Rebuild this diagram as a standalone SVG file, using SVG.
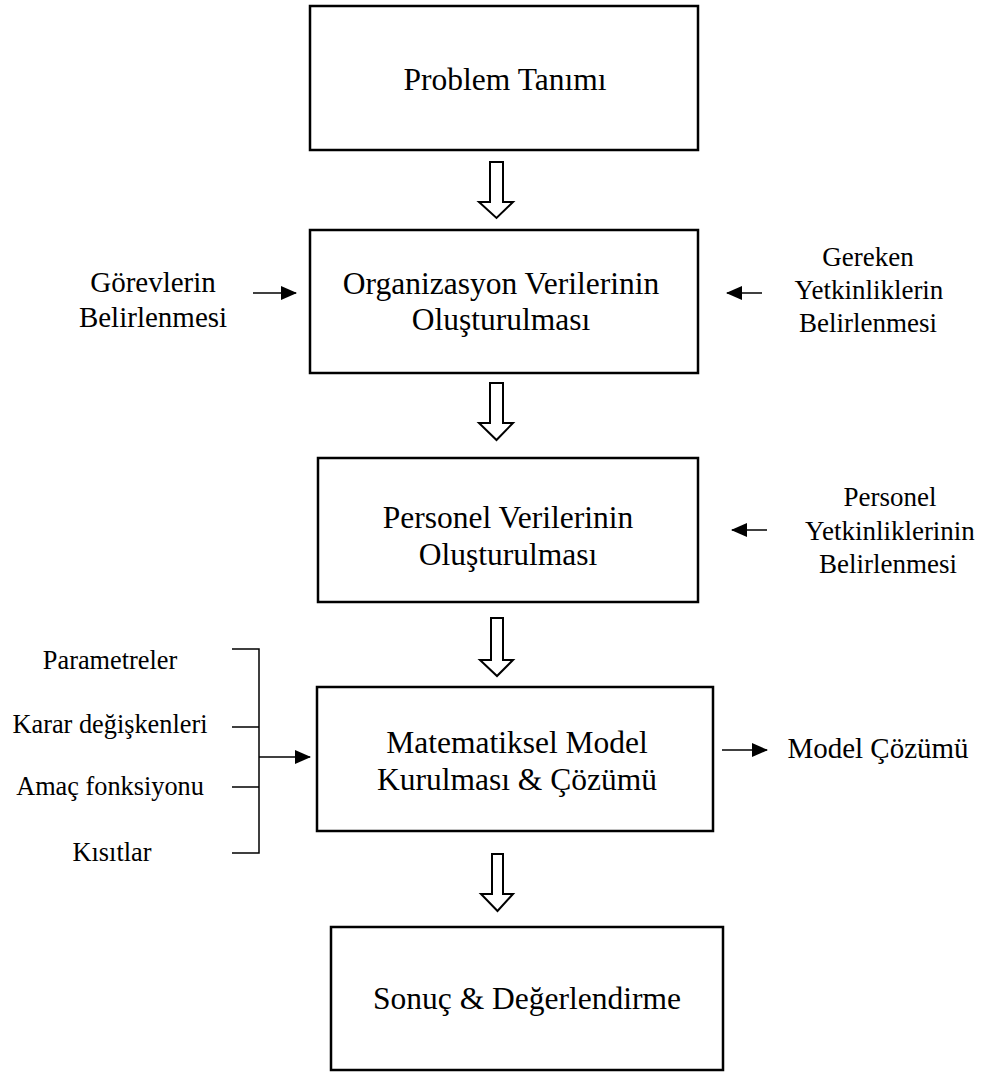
<svg xmlns="http://www.w3.org/2000/svg" width="982" height="1074" viewBox="0 0 982 1074">
<defs>
<style>
.box{fill:#fff;stroke:#000;stroke-width:2.5}
.t{font-family:"Liberation Serif","Times New Roman",serif;fill:#000;text-anchor:middle}
.big{font-size:31.5px}
.side{font-size:27px}
.sideL{font-size:29px}
.list{font-size:26.3px}
.hol{fill:#fff;stroke:#000;stroke-width:2;stroke-linejoin:miter}
.ln{fill:none;stroke:#000;stroke-width:1.5}
</style>
<marker id="ah" markerWidth="16" markerHeight="14" refX="15" refY="7" orient="auto" markerUnits="userSpaceOnUse">
<path d="M0,0 L16,7 L0,14 Z" fill="#000"/>
</marker>
</defs>
<rect width="982" height="1074" fill="#fff"/>

<g id="n1">
<rect class="box" x="310" y="6" width="388" height="144"/>
<text class="t big" x="505" y="90">Problem Tanımı</text>
</g>
<g id="n2">
<rect class="box" x="310" y="230" width="388" height="143"/>
<text class="t big" x="501" y="294">Organizasyon Verilerinin</text>
<text class="t big" x="501" y="330">Oluşturulması</text>
</g>
<g id="n3">
<rect class="box" x="318" y="458" width="380" height="144"/>
<text class="t big" x="508" y="528">Personel Verilerinin</text>
<text class="t big" x="508" y="565">Oluşturulması</text>
</g>
<g id="n4">
<rect class="box" x="317" y="687" width="396" height="144"/>
<text class="t big" x="517" y="753">Matematiksel Model</text>
<text class="t big" x="517" y="790">Kurulması &amp; Çözümü</text>
</g>
<g id="n5">
<rect class="box" x="331" y="927" width="392" height="143"/>
<text class="t big" x="527" y="1009">Sonuç &amp; Değerlendirme</text>
</g>

<g id="lbl-gorev">
<text class="t sideL" x="153" y="292">Görevlerin</text>
<text class="t sideL" x="153" y="327">Belirlenmesi</text>
</g>
<g id="lbl-gereken">
<text class="t side" x="868" y="266">Gereken</text>
<text class="t side" x="869" y="299">Yetkinliklerin</text>
<text class="t side" x="868" y="332">Belirlenmesi</text>
</g>
<g id="lbl-personel">
<text class="t side" x="890" y="506">Personel</text>
<text class="t side" x="890" y="540">Yetkinliklerinin</text>
<text class="t side" x="888" y="573">Belirlenmesi</text>
</g>
<g id="lbl-list">
<text class="t list" x="110" y="669">Parametreler</text>
<text class="t list" x="110" y="733">Karar değişkenleri</text>
<text class="t list" x="110" y="795">Amaç fonksiyonu</text>
<text class="t list" x="112" y="861">Kısıtlar</text>
</g>
<g id="lbl-cozum">
<text class="t sideL" x="878" y="758">Model Çözümü</text>
</g>

<g id="connectors">
<path class="hol" d="M490,162 H503 V202 H513 L496.5,218 L479,202 H490 Z"/>
<path class="hol" d="M490,383 H503 V423 H513 L496.5,440 L479,423 H490 Z"/>
<path class="hol" d="M491,618 H503 V660 H513 L497,676 L480,660 H491 Z"/>
<path class="hol" d="M492,854 H503 V894 H513 L497.5,911 L481,894 H492 Z"/>
<line class="ln" x1="253" y1="293" x2="296" y2="293" marker-end="url(#ah)"/>
<line class="ln" x1="762" y1="293" x2="727" y2="293" marker-end="url(#ah)"/>
<line class="ln" x1="767" y1="530" x2="732" y2="530" marker-end="url(#ah)"/>
<line class="ln" x1="722" y1="750" x2="767" y2="750" marker-end="url(#ah)"/>
<path class="ln" d="M232,649 H259 V853 H232 M232,727 H259 M232,787 H259"/>
<line class="ln" x1="259" y1="757" x2="310" y2="757" marker-end="url(#ah)"/>
</g>
</svg>
